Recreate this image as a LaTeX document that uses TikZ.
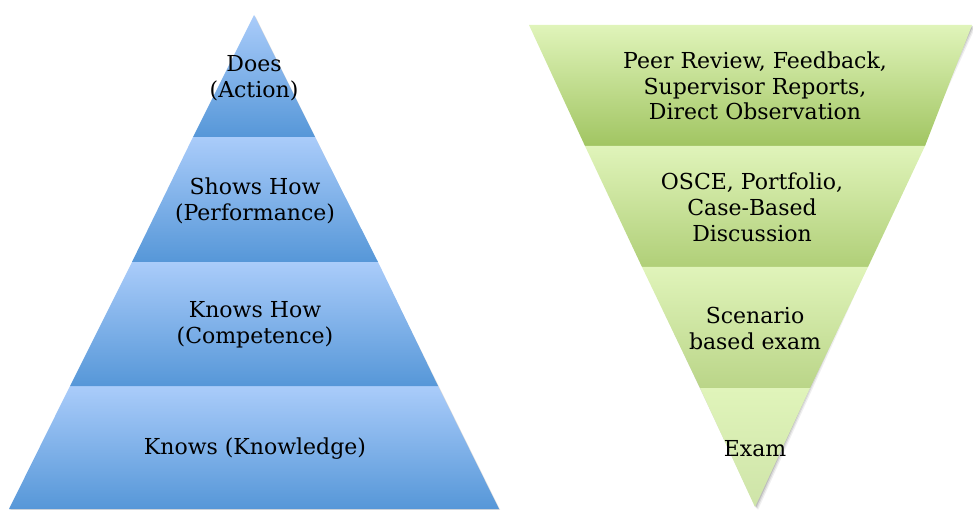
\documentclass[tikz,border=0pt]{standalone}
\usepackage{fontspec}
\setmainfont{DejaVu Serif}
\begin{document}
\begin{tikzpicture}[x=1pt,y=1pt,
  label/.style={align=center,font=\fontsize{22}{25.8}\selectfont,inner sep=0pt},
  blueband/.style={top color=blueTop,bottom color=blueBot},
  shadowfill/.style={fill=black,fill opacity=#1,draw=none}]
\definecolor{blueTop}{RGB}{170,204,250}
\definecolor{blueBot}{RGB}{86,151,216}
\definecolor{gA}{RGB}{224,244,186}
\definecolor{gAb}{RGB}{161,197,98}
\definecolor{gBb}{RGB}{176,207,120}
\definecolor{gCb}{RGB}{186,213,136}
\definecolor{gDb}{RGB}{206,228,168}
\useasboundingbox (0,0) rectangle (973,509);

% soft shadows
\foreach \o/\a in {3/0.04,2/0.06,1/0.08}{
  \fill[shadowfill=\a,xshift=\o*0.6,yshift=-\o*0.6] (254,494) -- (499,0) -- (9,0) -- cycle;
  \fill[shadowfill=\a*1.6,xshift=\o,yshift=-\o] (529,484) -- (972,484) -- (755,2) -- cycle;
}

% pyramid of competence (bottom to top)
\shade[blueband] (9,0) -- (499,0) -- (438,123) -- (70,123) -- cycle;
\shade[blueband] (70,123) -- (438,123) -- (378,247) -- (132,247) -- cycle;
\shade[blueband] (132,247) -- (378,247) -- (315,372) -- (193,372) -- cycle;
\shade[blueband] (193,372) -- (315,372) -- (254,494) -- cycle;

% inverted pyramid of assessment methods (top to bottom)
\shade[top color=gA,bottom color=gAb] (529,484) -- (972,484) -- (925,363) -- (585,363) -- cycle;
\shade[top color=gA,bottom color=gBb] (585,363) -- (925,363) -- (868,242) -- (642,242) -- cycle;
\shade[top color=gA,bottom color=gCb] (642,242) -- (868,242) -- (810,121) -- (700,121) -- cycle;
\shade[top color=gA,bottom color=gDb] (700,121) -- (810,121) -- (755,2) -- cycle;

% level labels
\node[label] (does) at (254,431) {Does\\(Action)};
\node[label] (shows) at (255,308.5) {Shows How\\(Performance)};
\node[label] (knowshow) at (255,184.5) {Knows How\\(Competence)};
\node[label] (knows) at (255,60) {Knows (Knowledge)};

% assessment labels
\node[label] (peer) at (755,423) {Peer Review, Feedback,\\Supervisor Reports,\\Direct Observation};
\node[label] (osce) at (752,302) {OSCE, Portfolio,\\Case-Based\\Discussion};
\node[label] (scen) at (755,180.5) {Scenario\\based exam};
\node[label] (exam) at (755,60) {Exam};
\end{tikzpicture}
\end{document}
